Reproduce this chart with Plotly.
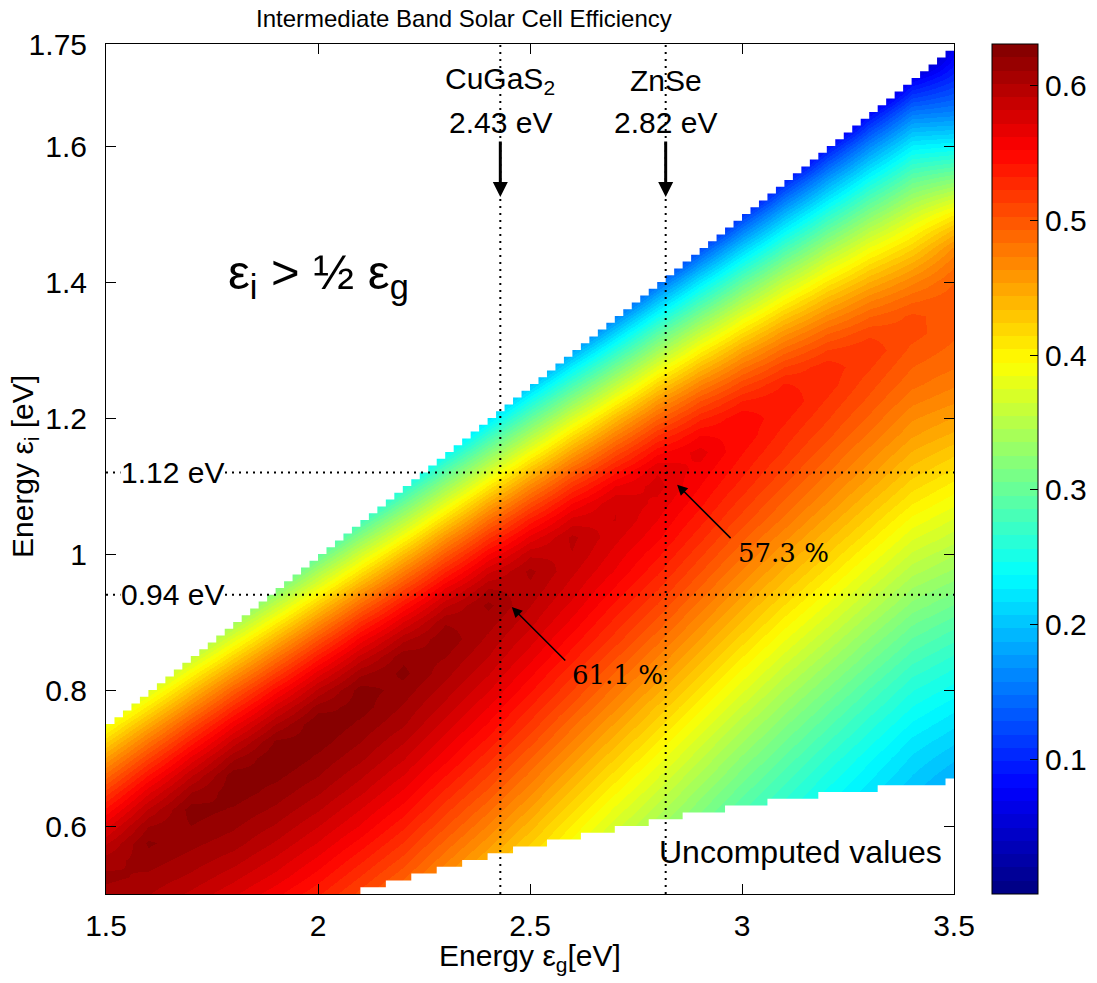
import plotly.graph_objects as go

# Band gap of each table column and intermediate level of each table row, in eV
eg_nodes = [1.5, 1.6, 1.7, 1.8, 1.9, 2.0, 2.1, 2.2, 2.3, 2.4, 2.5,
            2.6, 2.7, 2.8, 2.9, 3.0, 3.1, 3.2, 3.3, 3.4, 3.5]
ei_nodes = [round(0.5 + 0.025 * i, 3) for i in range(51)]

# Limiting efficiency per band-gap column, listed from eps_i = 0.5 eV upward
# in 0.025 eV steps (each column runs just past its eps_g / 2 limit)
efficiency_columns = [
    [0.607, 0.614, 0.607, 0.590, 0.569, 0.544, 0.517, 0.487, 0.455, 0.421, 0.385, 0.348, 0.309],
    [0.602, 0.609, 0.616, 0.623, 0.611, 0.592, 0.569, 0.542, 0.512, 0.480, 0.445, 0.408, 0.370, 0.330, 0.289],
    [0.589, 0.599, 0.607, 0.614, 0.621, 0.626, 0.611, 0.590, 0.565, 0.536, 0.505, 0.470, 0.434, 0.396, 0.355,
     0.313, 0.269],
    [0.574, 0.585, 0.596, 0.606, 0.613, 0.620, 0.627, 0.627, 0.609, 0.585, 0.558, 0.527, 0.494, 0.457, 0.418,
     0.378, 0.335, 0.291, 0.243],
    [0.555, 0.568, 0.579, 0.590, 0.600, 0.609, 0.617, 0.624, 0.631, 0.623, 0.602, 0.577, 0.548, 0.515, 0.480,
     0.442, 0.402, 0.359, 0.315, 0.269, 0.220],
    [0.534, 0.547, 0.559, 0.571, 0.582, 0.593, 0.603, 0.612, 0.619, 0.626, 0.631, 0.616, 0.594, 0.567, 0.536,
     0.502, 0.465, 0.426, 0.384, 0.341, 0.295, 0.247, 0.195],
    [0.509, 0.522, 0.535, 0.548, 0.561, 0.572, 0.584, 0.594, 0.604, 0.612, 0.619, 0.626, 0.626, 0.608, 0.584,
     0.556, 0.524, 0.488, 0.450, 0.409, 0.367, 0.322, 0.275, 0.225, 0.172],
    [0.480, 0.495, 0.509, 0.522, 0.535, 0.548, 0.560, 0.572, 0.583, 0.593, 0.603, 0.610, 0.617, 0.624, 0.618,
     0.598, 0.572, 0.542, 0.509, 0.473, 0.434, 0.392, 0.348, 0.302, 0.255, 0.204, 0.150],
    [0.448, 0.462, 0.476, 0.490, 0.504, 0.517, 0.530, 0.543, 0.556, 0.567, 0.578, 0.588, 0.597, 0.605, 0.612,
     0.619, 0.610, 0.589, 0.562, 0.531, 0.497, 0.460, 0.419, 0.377, 0.332, 0.286, 0.237, 0.185, 0.130],
    [0.416, 0.430, 0.444, 0.458, 0.472, 0.486, 0.500, 0.513, 0.526, 0.539, 0.551, 0.562, 0.573, 0.583, 0.592,
     0.599, 0.606, 0.614, 0.601, 0.579, 0.552, 0.520, 0.485, 0.447, 0.406, 0.363, 0.317, 0.270, 0.220, 0.167,
     0.110],
    [0.384, 0.397, 0.410, 0.424, 0.438, 0.452, 0.466, 0.480, 0.493, 0.507, 0.520, 0.532, 0.544, 0.555, 0.566,
     0.576, 0.585, 0.592, 0.599, 0.604, 0.589, 0.565, 0.537, 0.504, 0.468, 0.430, 0.388, 0.344, 0.298, 0.250,
     0.200, 0.146, 0.088],
    [0.351, 0.363, 0.377, 0.390, 0.403, 0.417, 0.431, 0.445, 0.459, 0.473, 0.486, 0.500, 0.513, 0.525, 0.537,
     0.548, 0.559, 0.569, 0.577, 0.584, 0.591, 0.594, 0.576, 0.552, 0.522, 0.489, 0.452, 0.413, 0.371, 0.326,
     0.279, 0.231, 0.180, 0.125, 0.066],
    [0.320, 0.332, 0.344, 0.356, 0.369, 0.382, 0.396, 0.410, 0.424, 0.438, 0.452, 0.466, 0.479, 0.492, 0.505,
     0.518, 0.529, 0.540, 0.551, 0.561, 0.568, 0.575, 0.582, 0.581, 0.562, 0.536, 0.506, 0.472, 0.436, 0.395,
     0.352, 0.307, 0.260, 0.211, 0.160, 0.104, 0.044],
    [0.293, 0.303, 0.314, 0.326, 0.338, 0.351, 0.364, 0.377, 0.391, 0.405, 0.419, 0.432, 0.447, 0.461, 0.474,
     0.487, 0.500, 0.512, 0.524, 0.535, 0.545, 0.555, 0.562, 0.569, 0.576, 0.570, 0.549, 0.522, 0.491, 0.457,
     0.419, 0.378, 0.335, 0.291, 0.243, 0.193, 0.142, 0.085, 0.024],
    [0.266, 0.275, 0.284, 0.295, 0.306, 0.318, 0.330, 0.343, 0.356, 0.369, 0.383, 0.397, 0.411, 0.425, 0.439,
     0.453, 0.466, 0.479, 0.492, 0.504, 0.515, 0.526, 0.536, 0.545, 0.552, 0.559, 0.566, 0.552, 0.530, 0.503,
     0.471, 0.436, 0.399, 0.359, 0.316, 0.271, 0.225, 0.175, 0.125, 0.068, 0.006],
    [0.241, 0.249, 0.257, 0.266, 0.276, 0.287, 0.299, 0.311, 0.323, 0.336, 0.349, 0.363, 0.377, 0.391, 0.405,
     0.419, 0.433, 0.446, 0.459, 0.472, 0.485, 0.496, 0.508, 0.518, 0.528, 0.536, 0.543, 0.550, 0.550, 0.533,
     0.509, 0.481, 0.450, 0.415, 0.378, 0.338, 0.297, 0.253, 0.207, 0.159, 0.110, 0.053, 0.000],
    [0.219, 0.226, 0.234, 0.242, 0.251, 0.260, 0.271, 0.282, 0.294, 0.306, 0.318, 0.331, 0.344, 0.358, 0.372,
     0.386, 0.400, 0.414, 0.428, 0.441, 0.454, 0.467, 0.480, 0.491, 0.502, 0.512, 0.521, 0.528, 0.535, 0.542,
     0.533, 0.513, 0.488, 0.460, 0.428, 0.394, 0.358, 0.319, 0.278, 0.235, 0.191, 0.145, 0.097, 0.040, 0.000],
    [0.198, 0.205, 0.212, 0.219, 0.227, 0.235, 0.244, 0.254, 0.265, 0.277, 0.289, 0.301, 0.314, 0.327, 0.341,
     0.355, 0.369, 0.383, 0.397, 0.411, 0.424, 0.437, 0.450, 0.463, 0.474, 0.486, 0.496, 0.506, 0.514, 0.521,
     0.528, 0.529, 0.513, 0.492, 0.466, 0.438, 0.407, 0.374, 0.338, 0.300, 0.261, 0.219, 0.177, 0.132, 0.086,
     0.030, 0.000],
    [0.178, 0.184, 0.191, 0.198, 0.205, 0.213, 0.221, 0.230, 0.239, 0.250, 0.261, 0.273, 0.285, 0.298, 0.311,
     0.324, 0.338, 0.352, 0.366, 0.380, 0.394, 0.408, 0.421, 0.434, 0.447, 0.459, 0.470, 0.481, 0.491, 0.500,
     0.507, 0.514, 0.521, 0.510, 0.492, 0.470, 0.444, 0.416, 0.386, 0.353, 0.318, 0.282, 0.244, 0.204, 0.164,
     0.121, 0.077, 0.022, 0.000],
    [0.159, 0.165, 0.171, 0.177, 0.184, 0.191, 0.199, 0.207, 0.215, 0.224, 0.235, 0.246, 0.257, 0.269, 0.282,
     0.295, 0.308, 0.322, 0.335, 0.349, 0.363, 0.377, 0.391, 0.405, 0.418, 0.431, 0.443, 0.455, 0.465, 0.476,
     0.486, 0.493, 0.500, 0.507, 0.505, 0.490, 0.471, 0.448, 0.422, 0.395, 0.365, 0.333, 0.300, 0.265, 0.229,
     0.191, 0.152, 0.111, 0.070, 0.015, 0.000],
    [0.140, 0.146, 0.152, 0.158, 0.165, 0.172, 0.180, 0.189, 0.199, 0.209, 0.219, 0.230, 0.242, 0.253, 0.265,
     0.278, 0.291, 0.305, 0.319, 0.333, 0.346, 0.360, 0.373, 0.387, 0.400, 0.414, 0.427, 0.441, 0.453, 0.465,
     0.475, 0.484, 0.490, 0.495, 0.498, 0.499, 0.493, 0.482, 0.466, 0.438, 0.403, 0.362, 0.320, 0.277, 0.236,
     0.196, 0.160, 0.131, 0.105, 0.084, 0.065],
]

# Lowest computed intermediate level, starting at each band-gap step
floor_eg = [2.10, 2.16, 2.22, 2.28, 2.34, 2.40, 2.46, 2.54, 2.62, 2.70,
            2.78, 2.86, 2.96, 3.06, 3.18, 3.32, 3.48]
floor_ei = [0.51, 0.52, 0.53, 0.54, 0.55, 0.56, 0.57, 0.58, 0.59, 0.60,
            0.61, 0.62, 0.63, 0.64, 0.65, 0.66, 0.67]

# Host materials: band gap, intermediate level and efficiency at that point
materials = ["CuGaS<sub>2</sub>", "ZnSe"]
material_gaps = [2.43, 2.82]
material_levels = [0.94, 1.12]
material_peaks = [61.1, 57.3]

x_ticks = [1.5, 2, 2.5, 3, 3.5]
y_ticks = [0.6, 0.8, 1.0, 1.2, 1.4, 1.6, 1.75]
cb_ticks = [0.1, 0.2, 0.3, 0.4, 0.5, 0.6]

X_RANGE = [1.5, 3.5]
Y_RANGE = [0.5, 1.75]
CELL = 0.02          # width of one computed band-gap step
Z_MAX = 0.631
LEVELS = 64
SANS = "Liberation Sans"
SERIF = "DejaVu Serif"
FS = 30

# plot area in pixels (margins below) and colour bar placement
PX_L, PX_R, PX_T, PX_B = 106, 954, 44, 894
CB_LEFT = 992


def jet(t):
    stops = [(0.0, (0.0, 0.0, 0.5)), (0.125, (0.0, 0.0, 1.0)), (0.375, (0.0, 1.0, 1.0)),
             (0.625, (1.0, 1.0, 0.0)), (0.875, (1.0, 0.0, 0.0)), (1.0, (0.5, 0.0, 0.0))]
    for (t0, c0), (t1, c1) in zip(stops[:-1], stops[1:]):
        if t <= t1:
            f = (t - t0) / (t1 - t0)
            rgb = [round(255 * (a + (b - a) * f)) for a, b in zip(c0, c1)]
            return "rgb({},{},{})".format(*rgb)
    return "rgb(128,0,0)"


# stepped palette, one flat band per colour level
colorscale = []
for k in range(LEVELS):
    c = jet((k + 0.5) / LEVELS)
    colorscale.append([k / LEVELS, c])
    colorscale.append([(k + 1) / LEVELS, c])

# rows = intermediate levels, columns = band gaps
z = [[col[i] if i < len(col) else None for col in efficiency_columns]
     for i in range(len(ei_nodes))]

plot_w = PX_R - PX_L
plot_h = PX_B - PX_T

fig = go.Figure()

fig.add_trace(go.Heatmap(
    x=eg_nodes, y=ei_nodes, z=z,
    zmin=0, zmax=Z_MAX, zsmooth="best",
    colorscale=colorscale, hoverinfo="skip",
    colorbar=dict(
        x=(CB_LEFT - PX_L) / plot_w, xanchor="left", xpad=0,
        y=0.5, yanchor="middle", len=1, lenmode="fraction", ypad=0,
        thickness=46, thicknessmode="pixels",
        outlinecolor="black", outlinewidth=1,
        ticks="inside", ticklen=8, tickcolor="black", tickwidth=1,
        tickvals=cb_ticks, ticktext=[f"{v:g}" for v in cb_ticks],
        tickfont=dict(family=SANS, size=FS, color="black"),
    ),
))

# region above the half-gap line (eps_i > eps_g / 2), stepped per computed cell
n_cells = round((X_RANGE[1] - X_RANGE[0]) / CELL)
ux, uy = [X_RANGE[0]], [1.9]
for k in range(n_cells):
    x0 = X_RANGE[0] + k * CELL
    ux += [x0, x0 + CELL]
    uy += [x0 / 2, x0 / 2]
ux += [X_RANGE[1], X_RANGE[0]]
uy += [1.9, 1.9]
fig.add_trace(go.Scatter(x=ux, y=uy, mode="lines", fill="toself", fillcolor="white",
                         line=dict(width=0, color="white"), hoverinfo="skip", showlegend=False))

# uncomputed corner at low intermediate level
lx, ly = [floor_eg[0]], [0.4]
for i, (x0, y0) in enumerate(zip(floor_eg, floor_ei)):
    x1 = floor_eg[i + 1] if i + 1 < len(floor_eg) else 3.7
    lx += [x0, x1]
    ly += [y0, y0]
lx += [3.7]
ly += [0.4]
fig.add_trace(go.Scatter(x=lx, y=ly, mode="lines", fill="toself", fillcolor="white",
                         line=dict(width=0, color="white"), hoverinfo="skip", showlegend=False))

dots = dict(color="black", width=2, dash="2px,5px")
shapes = []
for g in material_gaps:
    shapes.append(dict(type="line", xref="x", yref="y", x0=g, x1=g, y0=Y_RANGE[0], y1=Y_RANGE[1],
                       line=dots, layer="above"))
for lv in material_levels:
    shapes.append(dict(type="line", xref="x", yref="y", x0=X_RANGE[0], x1=X_RANGE[1], y0=lv, y1=lv,
                       line=dots, layer="above"))
# colour-bar ticks on the left edge of the bar as well
cb_x0 = (CB_LEFT - PX_L) / plot_w
cb_x1 = (CB_LEFT + 8 - PX_L) / plot_w
for v in cb_ticks:
    shapes.append(dict(type="line", xref="paper", yref="paper", x0=cb_x0, x1=cb_x1,
                       y0=v / Z_MAX, y1=v / Z_MAX, line=dict(color="black", width=1)))

ann = []
for name, g, lv, pk in zip(materials, material_gaps, material_levels, material_peaks):
    ann.append(dict(x=g, y=1.697, text=name, showarrow=False, xanchor="center", yanchor="middle",
                    font=dict(family=SANS, size=FS)))
    ann.append(dict(x=g, y=1.634, text=f"{g:.2f} eV", showarrow=False, xanchor="center", yanchor="middle",
                    font=dict(family=SANS, size=FS)))
    ann.append(dict(x=g, y=1.525, ax=0, ay=-57, text="", showarrow=True, arrowhead=2,
                    arrowsize=1, arrowwidth=3, arrowcolor="black", standoff=0))
    ann.append(dict(x=X_RANGE[0], y=lv, xshift=66, text=f"{lv:.2f} eV", showarrow=False,
                    xanchor="center", yanchor="middle", bgcolor="white", borderpad=0,
                    font=dict(family=SANS, size=FS)))
    tip_x, tip_y = g + 0.027, lv - 0.018
    ann.append(dict(x=tip_x, y=tip_y, ax=55, ay=55, text="", showarrow=True, arrowhead=2,
                    arrowsize=1.3, arrowwidth=1.6, arrowcolor="black", standoff=0))
    ann.append(dict(x=tip_x, y=tip_y, xshift=106, yshift=-68, text=f"{pk:.1f} %", showarrow=False,
                    xanchor="center", yanchor="middle", font=dict(family=SERIF, size=26)))

ann.append(dict(x=2.0, y=1.41, text="ε<sub>i</sub> > ½ ε<sub>g</sub>", showarrow=False,
                xanchor="center", yanchor="middle", font=dict(family=SANS, size=49)))
ann.append(dict(x=3.137, y=0.562, text="Uncomputed values", showarrow=False,
                xanchor="center", yanchor="middle", font=dict(family=SANS, size=32)))
ann.append(dict(xref="paper", yref="paper", x=(464 - PX_L) / plot_w, y=1, yshift=26,
                text="Intermediate Band Solar Cell Efficiency", showarrow=False,
                xanchor="center", yanchor="middle", font=dict(family=SANS, size=24)))
ann.append(dict(xref="paper", yref="paper", x=0.5, y=0, yshift=-(957 - PX_B),
                text="Energy ε<sub>g</sub>[eV]", showarrow=False,
                xanchor="center", yanchor="middle", font=dict(family=SANS, size=FS)))
ann.append(dict(xref="paper", yref="paper", x=(24 - PX_L) / plot_w, y=(PX_B - 467) / plot_h,
                textangle=-90, text="Energy ε<sub>i</sub> [eV]", showarrow=False,
                xanchor="center", yanchor="middle", font=dict(family=SANS, size=FS)))

axis_common = dict(ticks="inside", ticklen=10, tickwidth=1, tickcolor="black",
                   showline=True, linecolor="black", linewidth=1, mirror="ticks",
                   showgrid=False, zeroline=False,
                   tickfont=dict(family=SANS, size=FS, color="black"))
fig.update_xaxes(range=X_RANGE, tickvals=x_ticks, ticktext=[f"{v:g}" for v in x_ticks],
                 ticklabelstandoff=5, automargin=False, **axis_common)
fig.update_yaxes(range=Y_RANGE, tickvals=y_ticks, ticktext=[f"{v:g}" for v in y_ticks],
                 ticklabelstandoff=12, automargin=False, **axis_common)

fig.update_layout(
    width=1097, height=983,
    margin=dict(l=PX_L, r=1097 - PX_R, t=PX_T, b=983 - PX_B, autoexpand=False),
    paper_bgcolor="white", plot_bgcolor="white",
    font=dict(family=SANS, size=FS, color="black"),
    shapes=shapes, annotations=ann, showlegend=False,
)

fig.write_html("out.html")
